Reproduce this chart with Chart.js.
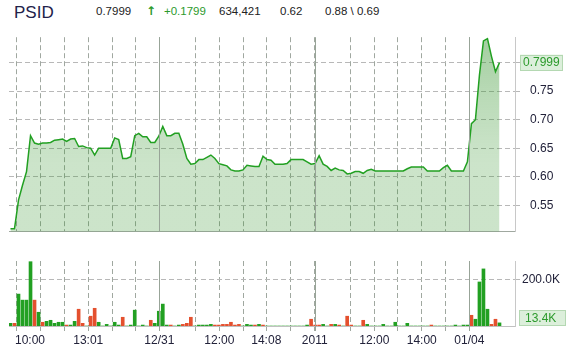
<!DOCTYPE html>
<html>
<head>
<meta charset="utf-8">
<script src="https://cdn.jsdelivr.net/npm/chart.js@4.4.1/dist/chart.umd.min.js"></script>
<style>
  body { margin: 0; background: #fff; }
  #wrap { position: relative; width: 566px; height: 348px; overflow: hidden; font-family: "Liberation Sans", Arial, sans-serif; }
  .h { position: absolute; line-height: 1; white-space: nowrap; color: #222; font-size: 11.5px; top: 6px; }
  #sym { font-size: 17px; color: #22224a; top: 4px; left: 14px; }
  .up { color: #2c9a2c; }
  #arrow { font-family: "DejaVu Sans", sans-serif; font-size: 12px; font-weight: bold; top: 5px; left: 146px; }
  canvas { position: absolute; left: 0; }
  #price { top: 20px; }
  #vol { top: 250px; }
</style>
</head>
<body>
<div id="wrap">
  <div class="h" id="sym">PSID</div>
  <div class="h" style="left:96px">0.7999</div>
  <div class="h up" id="arrow">&#8593;</div>
  <div class="h up" style="left:164px">+0.1799</div>
  <div class="h" style="left:219px">634,421</div>
  <div class="h" style="left:280px">0.62</div>
  <div class="h" style="left:325px">0.88 \ 0.69</div>
  <canvas id="price" width="566" height="229"></canvas>
  <canvas id="vol" width="566" height="98"></canvas>
</div>
<script>
// last trade per time slot
var priceValues = [
  0.509, 0.509, 0.559, 0.585, 0.609, 0.672, 0.659, 0.657, 0.659, 0.659,
  0.660, 0.664, 0.665, 0.666, 0.662, 0.666, 0.667, 0.653, 0.654, 0.651,
  0.650, 0.638, 0.650, 0.650, 0.650, 0.650, 0.668, 0.665, 0.632, 0.632,
  0.635, 0.672, 0.676, 0.670, 0.670, 0.660, 0.660, 0.671, 0.688, 0.672,
  0.672, 0.676, 0.676, 0.657, 0.632, 0.622, 0.623, 0.630, 0.630, 0.634,
  0.638, 0.632, 0.623, 0.621, 0.619, 0.612, 0.610, 0.610, 0.612, 0.620,
  0.619, 0.618, 0.618, 0.636, 0.630, 0.629, 0.622, 0.622, 0.622, 0.623,
  0.630, 0.630, 0.630, 0.630, 0.626, 0.622, 0.623, 0.637, 0.622, 0.618,
  0.611, 0.615, 0.612, 0.611, 0.605, 0.606, 0.609, 0.609, 0.606, 0.611,
  0.613, 0.610, 0.610, 0.610, 0.610, 0.610, 0.610, 0.610, 0.610, 0.614,
  0.617, 0.617, 0.617, 0.617, 0.610, 0.610, 0.610, 0.610, 0.616, 0.620,
  0.610, 0.610, 0.610, 0.610, 0.626, 0.693, 0.700, 0.778, 0.838, 0.842,
  0.811, 0.784, 0.7999
];

// volume per slot, in thousands
var volumeValues = [
  11.5, 11.5, 137, 111, 111, 276, 111, 59, 16, 20,
  24.5, 11.5, 16, 16, 4, 4, 20, 72, 11.5, 0,
  42, 76, 16, 0, 7, 0, 16, 4, 37.5, 0,
  4, 68, 0, 4, 0, 24.5, 11.5, 63.5, 94, 4,
  4, 0, 4, 7, 11.5, 37.5, 0, 4, 4, 4,
  7, 4, 4, 7, 7, 16, 4, 7, 0, 7,
  4, 4, 7, 4, 0, 0, 0, 0, 0, 0,
  0, 0, 0, 0, 4, 29, 4, 4, 7, 0,
  7, 7, 4, 0, 42, 4, 0, 0, 24.5, 7,
  0, 0, 0, 7, 0, 0, 16, 0, 0, 11.5,
  0, 0, 0, 0, 0, 4, 0, 0, 0, 0,
  0, 4, 0, 4, 4, 46, 29, 189, 245, 72,
  7, 29, 13.4
];

// 1 = up tick (green), -1 = down tick (red)
var volumeDir = [
  1, -1, 1, 1, 1, 1, -1, 1, -1, 1,
  1, 1, 1, 1, -1, 1, 1, -1, -1, 1,
  -1, -1, 1, 1, 1, 1, 1, 1, -1, 1,
  1, 1, 1, 1, 1, -1, 1, 1, 1, 1,
  -1, 1, 1, -1, -1, -1, 1, 1, 1, 1,
  1, -1, -1, -1, -1, -1, -1, -1, 1, 1,
  1, -1, 1, -1, 1, 1, 1, 1, 1, 1,
  1, 1, 1, 1, 1, -1, -1, -1, 1, 1,
  -1, 1, -1, 1, -1, -1, 1, 1, -1, 1,
  1, 1, 1, 1, 1, 1, 1, 1, 1, 1,
  1, 1, 1, 1, 1, -1, 1, 1, 1, 1,
  1, 1, 1, 1, 1, -1, 1, 1, 1, 1,
  -1, -1, 1
];

// time axis, in slot units
var gridSlots = [1.45, 7.44, 13.42, 19.41, 25.40, 31.14, 37.13, 46.11, 52.10, 58.08,
                 63.82, 69.91, 75.90, 84.78, 90.77, 96.51, 102.6, 108.6, 114.47];
var sessionBreaks = [37.13, 75.90, 114.47];
var labelSlots = [4.87, 19.41, 37.13, 52.10, 63.82, 75.90, 90.77, 102.6, 114.47];
var tickLabels = ['10:00', '13:01', '12/31', '12:00', '14:08', '2011', '12:00', '14:00', '01/04'];

var priceTicks = [0.55, 0.60, 0.65, 0.70, 0.75, 0.80];
var volumeTicks = [200];

var GREEN = '#22a022';
var RED = '#e4502e';
var FONT = { family: '"Liberation Sans", Arial, sans-serif', size: 12 };
var TEXT = '#22223a';
var DASH = [5, 3];

var sessionLines = {
  id: 'sessionLines',
  afterDatasetsDraw: function (chart, args, opts) {
    var ctx = chart.ctx, area = chart.chartArea, x = chart.scales.x;
    ctx.save();
    ctx.strokeStyle = '#98a498';
    ctx.lineWidth = 1;
    sessionBreaks.forEach(function (v) {
      var px = Math.round(x.getPixelForValue(v)) + 0.5;
      ctx.beginPath();
      ctx.moveTo(px, area.top);
      ctx.lineTo(px, area.bottom + (opts.extend || 0));
      ctx.stroke();
    });
    ctx.restore();
  }
};

var lastTag = {
  id: 'lastTag',
  afterDraw: function (chart, args, opts) {
    var ctx = chart.ctx, area = chart.chartArea, y = chart.scales.y;
    var h = 16;
    var top = y.getPixelForValue(opts.value) - h / 2;
    if (top + h > area.bottom) top = area.bottom - h;
    ctx.save();
    ctx.fillStyle = '#dcefdb';
    ctx.fillRect(opts.x, top, opts.w, h);
    ctx.strokeStyle = '#b4d8b2';
    ctx.lineWidth = 1;
    ctx.strokeRect(opts.x + 0.5, Math.round(top) + 0.5, opts.w - 1, h - 1);
    ctx.fillStyle = '#2c9a2c';
    ctx.font = '12px "Liberation Sans", Arial, sans-serif';
    ctx.textBaseline = 'middle';
    ctx.fillText(opts.text, opts.x + opts.pad, top + h / 2 + 0.5);
    ctx.restore();
  }
};

function xScale(withLabels) {
  var slots = withLabels ? gridSlots.concat([labelSlots[0]]).sort(function (a, b) { return a - b; }) : gridSlots;
  var gridColor = function (c) {
    return c.tick && gridSlots.indexOf(c.tick.value) >= 0 ? '#a0a8a0' : 'rgba(0,0,0,0)';
  };
  return {
    type: 'linear',
    min: -0.37,
    max: 125.87,
    offset: false,
    afterBuildTicks: function (s) { s.ticks = slots.map(function (v) { return { value: v }; }); },
    afterFit: function (s) { s.height = withLabels ? 22 : 0; },
    grid: { color: gridColor, tickColor: gridColor, offset: false, drawTicks: withLabels, tickLength: 5, tickBorderDash: DASH },
    border: { display: true, color: withLabels ? '#c0c0c0' : '#a0a8a0', dash: DASH },
    ticks: {
      display: withLabels,
      autoSkip: false,
      maxRotation: 0,
      minRotation: 0,
      padding: 2,
      font: FONT,
      color: TEXT,
      callback: function (v) {
        var i = labelSlots.indexOf(v);
        return i >= 0 ? tickLabels[i] : '';
      }
    }
  };
}

var fillColor = function (c) {
  var area = c.chart.chartArea;
  if (!area) return 'rgba(51,147,43,0.25)';
  var g = c.chart.ctx.createLinearGradient(0, area.top, 0, area.bottom);
  g.addColorStop(0, 'rgba(51,147,43,0.45)');
  g.addColorStop(0.3, 'rgba(51,147,43,0.34)');
  g.addColorStop(0.55, 'rgba(51,147,43,0.27)');
  g.addColorStop(0.65, 'rgba(51,147,43,0.25)');
  g.addColorStop(1, 'rgba(51,147,43,0.25)');
  return g;
};

new Chart(document.getElementById('price'), {
  type: 'line',
  data: {
    datasets: [{
      data: priceValues.map(function (v, i) { return { x: i, y: v }; }),
      borderColor: GREEN,
      borderWidth: 1.5,
      backgroundColor: fillColor,
      fill: 'start',
      pointRadius: 0,
      tension: 0
    }]
  },
  options: {
    responsive: false,
    animation: false,
    layout: { padding: { left: 9, top: 11, right: 0, bottom: 0 } },
    plugins: {
      legend: { display: false },
      tooltip: { enabled: false },
      sessionLines: {},
      lastTag: { value: priceValues[priceValues.length - 1], text: priceValues[priceValues.length - 1].toFixed(4), x: 520, w: 43, pad: 3 }
    },
    scales: {
      x: xScale(false),
      y: {
        position: 'right',
        min: 0.5035,
        max: 0.8445,
        afterBuildTicks: function (s) { s.ticks = priceTicks.map(function (v) { return { value: v }; }); },
        afterFit: function (s) { s.width = 51; },
        grid: { color: '#b8b8b8', tickColor: '#b8b8b8', tickLength: 5 },
        border: { color: '#c8c8c8', dash: DASH },
        ticks: {
          padding: 10,
          font: FONT,
          color: TEXT,
          callback: function (v) { return v > 0.79 ? '' : v.toFixed(2); }
        }
      }
    }
  },
  plugins: [sessionLines, lastTag]
});

new Chart(document.getElementById('vol'), {
  type: 'bar',
  data: {
    datasets: [{
      data: volumeValues.map(function (v, i) { return { x: i, y: v }; }),
      backgroundColor: volumeDir.map(function (d) { return d > 0 ? GREEN : RED; }),
      barThickness: 3,
      borderWidth: 0
    }]
  },
  options: {
    responsive: false,
    animation: false,
    layout: { padding: { left: 9, top: 11, right: 0, bottom: 0 } },
    plugins: {
      legend: { display: false },
      tooltip: { enabled: false },
      sessionLines: { extend: 5 },
      lastTag: { value: volumeValues[volumeValues.length - 1], text: volumeValues[volumeValues.length - 1].toFixed(1) + 'K', x: 519, w: 47, pad: 6 }
    },
    scales: {
      x: xScale(true),
      y: {
        position: 'right',
        min: 0,
        max: 279,
        afterBuildTicks: function (s) { s.ticks = volumeTicks.map(function (v) { return { value: v }; }); },
        afterFit: function (s) { s.width = 51; },
        grid: { color: '#b8b8b8', tickColor: '#b8b8b8', tickLength: 5 },
        border: { color: '#c8c8c8', dash: DASH },
        ticks: {
          padding: 2,
          font: FONT,
          color: TEXT,
          callback: function (v) { return v.toFixed(1) + 'K'; }
        }
      }
    }
  },
  plugins: [sessionLines, lastTag]
});
</script>
</body>
</html>
